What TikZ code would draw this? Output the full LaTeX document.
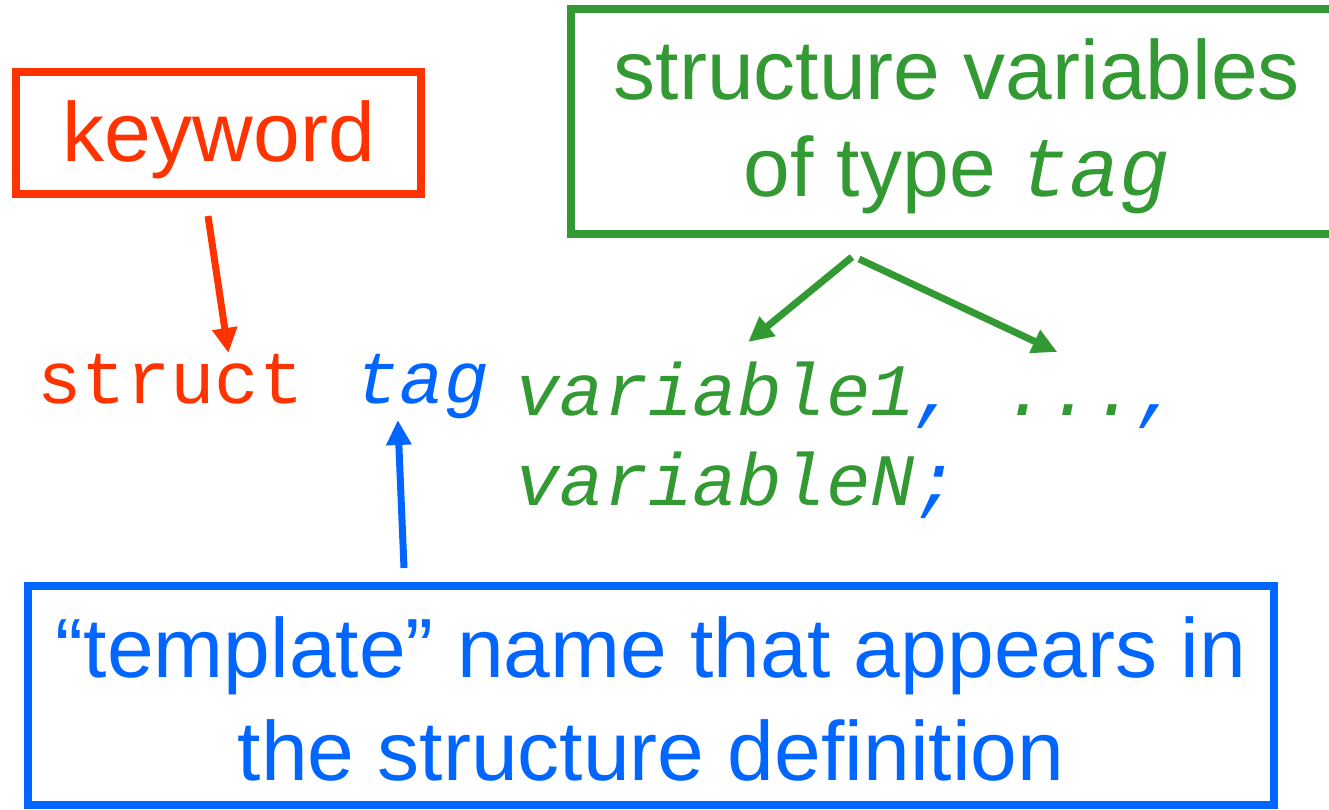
\documentclass[tikz,border=0pt]{standalone}
\usepackage{fontspec}
\setmainfont{Liberation Sans}
\setmonofont{Liberation Mono}
\usetikzlibrary{arrows.meta}

\definecolor{kwred}{RGB}{255,51,0}
\definecolor{vargreen}{RGB}{51,153,51}
\definecolor{tagblue}{RGB}{0,102,255}

\tikzset{
  notebox/.style={draw,line width=8pt,inner sep=0pt},
  sanslabel/.style={font=\fontsize{84}{100}\selectfont,inner sep=0pt,anchor=base},
  codeline/.style={font=\fontsize{74}{90}\selectfont\ttfamily,inner sep=0pt,anchor=base west},
  pointer/.style={line width=7pt,-{Triangle[length=25pt,width=24pt]}}
}

\begin{document}
\begin{tikzpicture}[x=1pt,y=-1pt]
  \useasboundingbox (0,0) rectangle (1329,810);
  % boxes
  \node[notebox,kwred,minimum width=405pt,minimum height=122pt] (keybox) at (218.5,133) {};
  \node[notebox,vargreen,minimum width=776pt,minimum height=225pt] (varbox) at (959,121.5) {};
  \node[notebox,tagblue,minimum width=1246pt,minimum height=219pt] (tmplbox) at (651,695.5) {};
  % box texts
  \node[sanslabel,kwred] (keytext) at (218.5,162) {keyword};
  \node[sanslabel,vargreen] (vartext1) at (957,100) {structure variables};
  \node[sanslabel,vargreen] (vartext2) at (957,197) {of type {\ttfamily\itshape tag}};
  \node[sanslabel,tagblue] (tmpltext1) at (651,677) {``template'' name that appears in};
  \node[sanslabel,tagblue] (tmpltext2) at (651,780) {the structure definition};
  % the declaration
  \node[codeline,kwred] (struct) at (37,403) {struct};
  \node[codeline,tagblue] (tag) at (355,403) {\itshape tag};
  \node[codeline] (var1) at (515,415) {\itshape\color{vargreen}variable1\color{tagblue}, \color{vargreen}...\color{tagblue},};
  \node[codeline] (varN) at (515,505) {\itshape\color{vargreen}variableN\color{tagblue};};
  % pointers
  \draw[pointer,kwred] ([xshift=-10.5pt,yshift=-18pt]keybox.south) -- ([xshift=58pt,yshift=50pt]struct.base);
  \draw[pointer,tagblue] ([xshift=-247pt,yshift=14pt]tmplbox.north) -- ([xshift=-24pt,yshift=-17pt]tag.base);
  \draw[pointer,vargreen] ([xshift=-107pt,yshift=-19pt]varbox.south) -- ([xshift=-100pt,yshift=73pt]var1.base);
  \draw[pointer,vargreen] ([xshift=-100pt,yshift=-21pt]varbox.south) -- ([xshift=209pt,yshift=63pt]var1.base);
\end{tikzpicture}
\end{document}
